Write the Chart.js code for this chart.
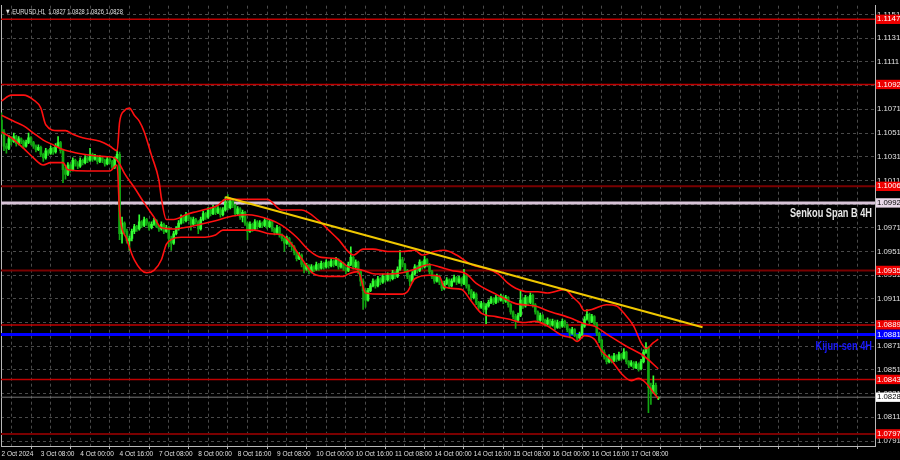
<!DOCTYPE html>
<html>
<head>
<meta charset="utf-8">
<script src="https://cdn.jsdelivr.net/npm/chart.js@4.4.1/dist/chart.umd.min.js"></script>
<style>
  html, body { margin: 0; padding: 0; background: #000; }
  canvas { display: block; background: #000; }
</style>
</head>
<body>
<canvas id="chart" width="900" height="460"></canvas>
<script>
// EURUSD H1 candles, bar 0 = first bar on screen
var opens = [
1.1062,1.1052,1.1040,1.1038,1.1046,1.1044,1.1048,1.1042,1.1046,1.1044,
1.1040,1.1043,1.1047,1.1043,1.1040,1.1037,1.1039,1.1033,1.1030,1.1036,
1.1034,1.1038,1.1035,1.1040,1.1043,1.1036,1.1020,1.1016,1.1024,1.1020,
1.1028,1.1025,1.1023,1.1028,1.1026,1.1030,1.1028,1.1033,1.1029,1.1031,
1.1027,1.1030,1.1028,1.1025,1.1029,1.1027,1.1022,1.1030,1.1033,1.0966,
1.0975,1.0968,1.0960,1.0962,1.0968,1.0972,1.0970,1.0976,1.0973,1.0978,
1.0975,1.0971,1.0974,1.0977,1.0972,1.0970,1.0974,1.0968,1.0971,1.0962,
1.0958,1.0966,1.0970,1.0975,1.0980,1.0977,1.0982,1.0979,1.0974,1.0978,
1.0976,1.0970,1.0978,1.0983,1.0980,1.0986,1.0983,1.0988,1.0984,1.0987,
1.0982,1.0986,1.0992,1.0988,1.0994,1.0990,1.0983,1.0987,1.0980,1.0984,
1.0975,1.0968,1.0974,1.0970,1.0976,1.0972,1.0975,1.0973,1.0977,1.0972,
1.0976,1.0970,1.0967,1.0971,1.0965,1.0962,1.0958,1.0962,1.0957,1.0955,
1.0950,1.0945,1.0948,1.0940,1.0936,1.0939,1.0934,1.0938,1.0936,1.0940,
1.0937,1.0941,1.0938,1.0942,1.0939,1.0943,1.0940,1.0944,1.0938,1.0941,
1.0937,1.0935,1.0940,1.0946,1.0938,1.0942,1.0934,1.0926,1.0918,1.0910,
1.0918,1.0922,1.0926,1.0922,1.0928,1.0925,1.0930,1.0927,1.0931,1.0928,
1.0933,1.0930,1.0936,1.0944,1.0940,1.0935,1.0930,1.0926,1.0932,1.0938,
1.0935,1.0942,1.0938,1.0944,1.0940,1.0934,1.0930,1.0926,1.0930,1.0925,
1.0920,1.0924,1.0927,1.0922,1.0926,1.0929,1.0925,1.0928,1.0924,1.0930,
1.0922,1.0918,1.0912,1.0915,1.0908,1.0904,1.0907,1.0902,1.0905,1.0908,
1.0911,1.0908,1.0912,1.0910,1.0913,1.0909,1.0912,1.0906,1.0900,1.0896,
1.0893,1.0897,1.0910,1.0905,1.0912,1.0908,1.0914,1.0906,1.0900,1.0893,
1.0897,1.0893,1.0890,1.0893,1.0889,1.0892,1.0887,1.0891,1.0888,1.0892,
1.0889,1.0885,1.0882,1.0885,1.0880,1.0878,1.0881,1.0888,1.0894,1.0898,
1.0892,1.0896,1.0890,1.0882,1.0876,1.0866,1.0862,1.0858,1.0862,1.0859,
1.0863,1.0860,1.0864,1.0861,1.0866,1.0858,1.0855,1.0857,1.0853,1.0856,
1.0852,1.0858,1.0866,1.0870,1.0836,1.0832,1.0838,1.0827]
var highs = [
1.1068,1.1054,1.1042,1.1049,1.1048,1.1051,1.1049,1.1048,1.1047,1.1045,
1.1045,1.1051,1.1048,1.1044,1.1041,1.1041,1.1040,1.1034,1.1038,1.1037,
1.1040,1.1039,1.1042,1.1048,1.1044,1.1037,1.1022,1.1026,1.1025,1.1030,
1.1029,1.1027,1.1030,1.1029,1.1032,1.1031,1.1038,1.1034,1.1033,1.1032,
1.1032,1.1031,1.1029,1.1031,1.1030,1.1028,1.1031,1.1036,1.1035,1.0980,
1.0976,1.0970,1.0964,1.0970,1.0974,1.0973,1.0982,1.0977,1.0980,1.0979,
1.0976,1.0976,1.0979,1.0978,1.0973,1.0976,1.0975,1.0973,1.0972,1.0964,
1.0968,1.0972,1.0977,1.0982,1.0981,1.0984,1.0983,1.0980,1.0980,1.0979,
1.0977,1.0980,1.0985,1.0984,1.0988,1.0987,1.0990,1.0989,1.0989,1.0988,
1.0988,1.0997,1.0999,1.0996,1.0995,1.0991,1.0989,1.0988,1.0986,1.0985,
1.0976,1.0976,1.0975,1.0978,1.0977,1.0977,1.0976,1.0979,1.0978,1.0978,
1.0977,1.0971,1.0973,1.0972,1.0966,1.0963,1.0964,1.0963,1.0959,1.0956,
1.0951,1.0950,1.0949,1.0941,1.0941,1.0940,1.0940,1.0939,1.0942,1.0941,
1.0943,1.0942,1.0944,1.0943,1.0945,1.0944,1.0946,1.0945,1.0943,1.0942,
1.0938,1.0942,1.0955,1.0947,1.0944,1.0943,1.0935,1.0928,1.0920,1.0920,
1.0924,1.0928,1.0927,1.0930,1.0929,1.0932,1.0931,1.0933,1.0932,1.0935,
1.0934,1.0938,1.0952,1.0946,1.0941,1.0936,1.0931,1.0934,1.0940,1.0939,
1.0944,1.0943,1.0947,1.0945,1.0941,1.0935,1.0931,1.0932,1.0931,1.0926,
1.0926,1.0929,1.0928,1.0928,1.0931,1.0930,1.0930,1.0929,1.0936,1.0931,
1.0923,1.0919,1.0917,1.0916,1.0909,1.0909,1.0908,1.0907,1.0910,1.0913,
1.0912,1.0914,1.0913,1.0915,1.0914,1.0914,1.0913,1.0907,1.0901,1.0898,
1.0899,1.0918,1.0912,1.0914,1.0913,1.0916,1.0915,1.0907,1.0901,1.0899,
1.0898,1.0894,1.0895,1.0894,1.0894,1.0893,1.0893,1.0892,1.0894,1.0893,
1.0890,1.0886,1.0887,1.0886,1.0881,1.0883,1.0890,1.0896,1.0902,1.0899,
1.0898,1.0897,1.0891,1.0883,1.0877,1.0868,1.0863,1.0864,1.0863,1.0865,
1.0864,1.0866,1.0865,1.0869,1.0867,1.0859,1.0859,1.0858,1.0858,1.0857,
1.0860,1.0868,1.0874,1.0871,1.0840,1.0846,1.0840,1.0828]
var lows = [
1.1050,1.1036,1.1034,1.1037,1.1041,1.1043,1.1040,1.1041,1.1042,1.1038,
1.1039,1.1042,1.1041,1.1038,1.1035,1.1036,1.1031,1.1027,1.1029,1.1032,
1.1033,1.1033,1.1034,1.1039,1.1034,1.1009,1.1012,1.1015,1.1018,1.1019,
1.1023,1.1021,1.1022,1.1024,1.1025,1.1026,1.1027,1.1027,1.1028,1.1025,
1.1026,1.1026,1.1023,1.1024,1.1025,1.1021,1.1021,1.1029,1.0961,1.0958,
1.0966,1.0958,1.0952,1.0960,1.0966,1.0968,1.0969,1.0971,1.0972,1.0973,
1.0969,1.0970,1.0973,1.0971,1.0968,1.0969,1.0966,1.0967,1.0955,1.0952,
1.0957,1.0965,1.0969,1.0974,1.0975,1.0976,1.0977,1.0969,1.0973,1.0974,
1.0966,1.0969,1.0977,1.0978,1.0979,1.0981,1.0982,1.0982,1.0983,1.0980,
1.0981,1.0985,1.0986,1.0987,1.0988,1.0981,1.0982,1.0978,1.0976,1.0973,
1.0961,1.0967,1.0968,1.0969,1.0970,1.0971,1.0971,1.0972,1.0970,1.0971,
1.0968,1.0965,1.0966,1.0963,1.0960,1.0951,1.0957,1.0955,1.0952,1.0948,
1.0943,1.0944,1.0938,1.0933,1.0935,1.0932,1.0933,1.0934,1.0935,1.0935,
1.0936,1.0936,1.0937,1.0937,1.0938,1.0938,1.0939,1.0936,1.0937,1.0935,
1.0932,1.0934,1.0939,1.0936,1.0937,1.0932,1.0922,1.0902,1.0904,1.0909,
1.0917,1.0921,1.0920,1.0921,1.0923,1.0924,1.0925,1.0926,1.0926,1.0927,
1.0928,1.0929,1.0935,1.0938,1.0933,1.0928,1.0922,1.0925,1.0931,1.0933,
1.0934,1.0936,1.0937,1.0938,1.0932,1.0928,1.0924,1.0925,1.0923,1.0918,
1.0919,1.0923,1.0920,1.0921,1.0925,1.0923,1.0924,1.0922,1.0923,1.0920,
1.0915,1.0910,1.0911,1.0906,1.0902,1.0903,1.0900,1.0890,1.0904,1.0907,
1.0906,1.0907,1.0908,1.0909,1.0907,1.0908,1.0904,1.0898,1.0894,1.0886,
1.0892,1.0896,1.0903,1.0904,1.0906,1.0907,1.0904,1.0898,1.0891,1.0892,
1.0891,1.0888,1.0889,1.0887,1.0888,1.0885,1.0886,1.0886,1.0887,1.0887,
1.0883,1.0878,1.0881,1.0879,1.0876,1.0877,1.0880,1.0887,1.0893,1.0890,
1.0891,1.0888,1.0880,1.0874,1.0864,1.0860,1.0856,1.0857,1.0857,1.0858,
1.0858,1.0859,1.0859,1.0860,1.0856,1.0853,1.0854,1.0852,1.0852,1.0850,
1.0851,1.0857,1.0865,1.0815,1.0822,1.0831,1.0829,1.0826]
var closes = [
1.1052,1.1040,1.1038,1.1046,1.1044,1.1048,1.1042,1.1046,1.1044,1.1040,
1.1043,1.1047,1.1043,1.1040,1.1037,1.1039,1.1033,1.1030,1.1036,1.1034,
1.1038,1.1035,1.1040,1.1043,1.1036,1.1020,1.1016,1.1024,1.1020,1.1028,
1.1025,1.1023,1.1028,1.1026,1.1030,1.1028,1.1033,1.1029,1.1031,1.1027,
1.1030,1.1028,1.1025,1.1029,1.1027,1.1022,1.1030,1.1033,1.0966,1.0975,
1.0968,1.0960,1.0962,1.0968,1.0972,1.0970,1.0976,1.0973,1.0978,1.0975,
1.0971,1.0974,1.0977,1.0972,1.0970,1.0974,1.0968,1.0971,1.0962,1.0958,
1.0966,1.0970,1.0975,1.0980,1.0977,1.0982,1.0979,1.0974,1.0978,1.0976,
1.0970,1.0978,1.0983,1.0980,1.0986,1.0983,1.0988,1.0984,1.0987,1.0982,
1.0986,1.0992,1.0988,1.0994,1.0990,1.0983,1.0987,1.0980,1.0984,1.0975,
1.0968,1.0974,1.0970,1.0976,1.0972,1.0975,1.0973,1.0977,1.0972,1.0976,
1.0970,1.0967,1.0971,1.0965,1.0962,1.0958,1.0962,1.0957,1.0955,1.0950,
1.0945,1.0948,1.0940,1.0936,1.0939,1.0934,1.0938,1.0936,1.0940,1.0937,
1.0941,1.0938,1.0942,1.0939,1.0943,1.0940,1.0944,1.0938,1.0941,1.0937,
1.0935,1.0940,1.0946,1.0938,1.0942,1.0934,1.0926,1.0918,1.0910,1.0918,
1.0922,1.0926,1.0922,1.0928,1.0925,1.0930,1.0927,1.0931,1.0928,1.0933,
1.0930,1.0936,1.0944,1.0940,1.0935,1.0930,1.0926,1.0932,1.0938,1.0935,
1.0942,1.0938,1.0944,1.0940,1.0934,1.0930,1.0926,1.0930,1.0925,1.0920,
1.0924,1.0927,1.0922,1.0926,1.0929,1.0925,1.0928,1.0924,1.0930,1.0922,
1.0918,1.0912,1.0915,1.0908,1.0904,1.0907,1.0902,1.0905,1.0908,1.0911,
1.0908,1.0912,1.0910,1.0913,1.0909,1.0912,1.0906,1.0900,1.0896,1.0893,
1.0897,1.0910,1.0905,1.0912,1.0908,1.0914,1.0906,1.0900,1.0893,1.0897,
1.0893,1.0890,1.0893,1.0889,1.0892,1.0887,1.0891,1.0888,1.0892,1.0889,
1.0885,1.0882,1.0885,1.0880,1.0878,1.0881,1.0888,1.0894,1.0898,1.0892,
1.0896,1.0890,1.0882,1.0876,1.0866,1.0862,1.0858,1.0862,1.0859,1.0863,
1.0860,1.0864,1.0861,1.0866,1.0858,1.0855,1.0857,1.0853,1.0856,1.0852,
1.0858,1.0866,1.0870,1.0836,1.0832,1.0838,1.0830,1.0828]

// bollinger envelope, [bar, price]
var upperBand = [[0,1.1078],[4,1.1083],[9,1.1083],[13,1.1079],[16,1.1072],[18,1.1058],[23,1.1053],[26,1.1053],
  [29,1.1050],[33,1.1047],[40,1.1044],[44,1.1040],[47,1.1036],[48,1.1060],[50,1.1070],[52,1.1072],[54,1.1066],
  [56,1.1061],[58,1.1052],[61,1.1032],[64,1.1011],[65,1.0996],[67,1.0978],[70,1.0978],[75,1.0982],[78,1.0984],
  [82,1.0986],[88,1.0990],[91,1.0995],[100,1.0995],[108,1.0995],[114,1.0986],[122,1.0986],[129,1.0977],
  [133,1.0969],[137,1.0961],[143,1.0948],[147,1.0953],[151,1.0953],[157,1.0951],[163,1.0951],[168,1.0952],
  [171,1.0948],[176,1.0951],[180,1.0952],[185,1.0948],[191,1.0940],[198,1.0936],[202,1.0932],[206,1.0924],
  [209,1.0920],[214,1.0917],[218,1.0917],[222,1.0916],[229,1.0919],[232,1.0913],[235,1.0907],[237,1.0901],
  [240,1.0902],[246,1.0906],[250,1.0905],[253,1.0899],[257,1.0888],[260,1.0874],[262,1.0869],[265,1.0874],[267,1.0877]]
var middleBand = [[0,1.1066],[5,1.1061],[9,1.1057],[13,1.1051],[17,1.1045],[21,1.1041],[25,1.1037],[31,1.1034],
  [37,1.1032],[43,1.1031],[46,1.1030],[48,1.1025],[50,1.1017],[54,1.1005],[58,1.0992],[62,1.0980],[65,1.0971],
  [70,1.0970],[74,1.0971],[81,1.0974],[87,1.0977],[94,1.0981],[100,1.0982],[109,1.0978],[114,1.0973],
  [120,1.0963],[125,1.0952],[130,1.0946],[136,1.0945],[141,1.0938],[147,1.0935],[152,1.0932],[157,1.0932],
  [163,1.0933],[168,1.0936],[174,1.0940],[178,1.0938],[183,1.0935],[189,1.0932],[193,1.0924],[201,1.0915],
  [209,1.0907],[217,1.0905],[222,1.0901],[231,1.0895],[237,1.0890],[241,1.0888],[247,1.0880],[254,1.0871],
  [261,1.0863],[267,1.0852]]
var lowerBand = [[0,1.1052],[4,1.1047],[9,1.1038],[13,1.1030],[17,1.1024],[20,1.1026],[25,1.1026],[27,1.1020],
  [35,1.1019],[44,1.1019],[47,1.1024],[48,1.0985],[51,1.0961],[54,1.0944],[59,1.0933],[62,1.0935],[65,1.0944],
  [67,1.0957],[69,1.0961],[73,1.0963],[81,1.0963],[87,1.0965],[90,1.0969],[95,1.0969],[103,1.0969],[109,1.0966],
  [114,1.0965],[118,1.0957],[122,1.0945],[127,1.0932],[132,1.0930],[139,1.0930],[141,1.0932],[145,1.0934],
  [148,1.0916],[155,1.0915],[163,1.0915],[165,1.0917],[168,1.0928],[174,1.0931],[178,1.0930],[180,1.0921],
  [187,1.0919],[191,1.0909],[195,1.0899],[201,1.0896],[206,1.0894],[212,1.0891],[217,1.0892],[222,1.0888],
  [228,1.0880],[232,1.0878],[234,1.0875],[237,1.0880],[241,1.0877],[244,1.0867],[248,1.0859],[252,1.0848],
  [256,1.0842],[259,1.0844],[262,1.0840],[265,1.0832],[267,1.0827]]

var trendLine = [[91,1.0997],[285,1.0887]]

var levelPrices = [1.1147,1.1092,1.1006,1.0992,1.0935,1.0889,1.0881,1.0843,1.0828,1.0797]
var gridPrices = [1.0791,1.0811,1.0831,1.0851,1.0871,1.0891,1.0911,1.0931,1.0951,1.0971,
  1.0991,1.1011,1.1031,1.1051,1.1071,1.1091,1.1111,1.1131,1.1151]
var xLabels = ["2 Oct 2024","3 Oct 08:00","4 Oct 00:00","4 Oct 16:00","7 Oct 08:00","8 Oct 00:00",
  "8 Oct 16:00","9 Oct 08:00","10 Oct 00:00","10 Oct 16:00","11 Oct 08:00","14 Oct 00:00",
  "14 Oct 16:00","15 Oct 08:00","16 Oct 00:00","16 Oct 16:00","17 Oct 08:00"]
var noteTexts = ["Senkou Span B 4H","Kijun-sen 4H"]
var notePrices = [1.0992,1.0881]
var titleText = "\u25BC EURUSD,H1  1.0827 1.0828 1.0826 1.0828"

// looks
var UP = "#33ff33", DOWN = "#12a812"
var GRID = "#4a4a4a", AXIS = "#b8b8b8", LABEL = "#e0e0e0"
var levelLook = {
  red:   {line:"#c00000", width:1.5, box:"#ee0000", text:"#ffffff"},
  dark:  {line:"#7a0000", width:2,   box:"#ee0000", text:"#ffffff"},
  span:  {line:"#d8c4d8", width:3,   box:"#e8d8e8", text:"#000000"},
  kijun: {line:"#0000ff", width:3,   box:"#0000ff", text:"#ffffff"},
  bid:   {line:"#777777", width:1,   box:"#ffffff", text:"#000000"}
}
var levelKind = ["red","red","dark","span","dark","red","kijun","red","bid","dark"]
var noteLook = [{color:"#e8e8e8", dy:11}, {color:"#1a1aff", dy:12}]

function levelIndex(v){ return levelPrices.indexOf(v) }

var wickData = [], bodyData = [], candleColors = []
for(let i=0;i<closes.length;i++){
    wickData.push({x:i, y:[lows[i], highs[i]]})
    bodyData.push({x:i, y:[opens[i], closes[i]]})
    candleColors.push(closes[i]>=opens[i] ? UP : DOWN)
}

function pts(arr){ return arr.map(p => ({x:p[0], y:p[1]})) }

var datasets = []
levelPrices.forEach((p,i) => {
    let look = levelLook[levelKind[i]]
    datasets.push({type:"line", data:[{x:-5,y:p},{x:400,y:p}], borderColor:look.line,
        borderWidth:look.width, pointRadius:0, order:5})
})
datasets.push({type:"bar", data:wickData, backgroundColor:candleColors, barThickness:1,
    grouped:false, order:4})
datasets.push({type:"bar", data:bodyData, backgroundColor:candleColors, barThickness:2,
    grouped:false, minBarLength:1, order:3})
;[upperBand, middleBand, lowerBand].forEach(b => {
    datasets.push({type:"line", data:pts(b), borderColor:"#ff1010", borderWidth:1.6, pointRadius:0,
        cubicInterpolationMode:"monotone", order:2})
})
datasets.push({type:"line", data:pts(trendLine), borderColor:"#f0c800", borderWidth:2, pointRadius:0, order:1})

// narrow text like the terminal font: squeeze horizontally
function squeezedText(ctx, text, x, y, sx){
    ctx.save()
    ctx.translate(x, y)
    ctx.scale(sx, 1)
    ctx.fillText(text, 0, 0)
    ctx.restore()
}

const textPlugin = {
    id: "mt4text",
    afterDatasetsDraw(chart){
        const {ctx, chartArea, scales} = chart
        ctx.save()
        ctx.font = '7.5px "Liberation Sans"'
        ctx.fillStyle = "#e0e0e0"
        ctx.textBaseline = "middle"
        ctx.textAlign = "left"
        squeezedText(ctx, titleText, chartArea.left + 4, chartArea.top + 6, 0.76)
        ctx.font = 'bold 13px "Liberation Sans"'
        ctx.textAlign = "right"
        noteTexts.forEach((t,i) => {
            ctx.fillStyle = noteLook[i].color
            squeezedText(ctx, t, chartArea.right - 3, scales.y.getPixelForValue(notePrices[i]) + noteLook[i].dy, 0.71)
        })
        ctx.restore()
    }
}

const ctx = document.getElementById("chart")
new Chart(ctx, {
    type: "line",
    data: {datasets: datasets},
    options: {
        responsive: false,
        animation: false,
        events: [],
        layout: {padding: {left:0, top:1, right:0, bottom:0}},
        plugins: {legend:{display:false}, tooltip:{enabled:false}},
        scales: {
            x: {
                type: "linear", min: -0.2, max: 355.1, offset: false,
                afterBuildTicks: s => { s.ticks = []; for(let v=0; v<=352; v+=8) s.ticks.push({value:v}) },
                afterFit: s => { s.height = 14 },
                grid: {color: GRID, tickLength: 3,
                    tickColor: c => (c.tick && c.tick.value % 16 === 0) ? AXIS : "rgba(0,0,0,0)"},
                border: {display:true, color: AXIS, dash:[3,3]},
                ticks: {autoSkip:false, maxRotation:0, align:"start", padding:1, color: LABEL,
                    font: {family:"Liberation Sans", size:6.5},
                    callback: v => v % 16 === 0 ? (xLabels[v/16] || "") : ""}
            },
            y: {
                type: "linear", position: "right", min: 1.07868, max: 1.11585,
                afterBuildTicks: s => {
                    s.ticks = gridPrices.map(v => ({value:v})).concat(levelPrices.map(v => ({value:v})))
                },
                afterFit: s => { s.width = 25 },
                grid: {
                    color: c => (c.tick && levelIndex(c.tick.value) >= 0) ? "rgba(0,0,0,0)" : GRID,
                    tickLength: 1,
                    tickColor: c => (c.tick && levelIndex(c.tick.value) >= 0) ? "rgba(0,0,0,0)" : AXIS
                },
                border: {display:true, color: AXIS, dash:[3,3]},
                ticks: {
                    autoSkip:false, padding:1,
                    font: {family:"Liberation Sans", size:7.8},
                    color: c => {
                        let i = c.tick ? levelIndex(c.tick.value) : -1
                        return i >= 0 ? levelLook[levelKind[i]].text : LABEL
                    },
                    showLabelBackdrop: c => !!c.tick && levelIndex(c.tick.value) >= 0,
                    backdropColor: c => {
                        let i = c.tick ? levelIndex(c.tick.value) : -1
                        return i >= 0 ? levelLook[levelKind[i]].box : "rgba(0,0,0,0)"
                    },
                    backdropPadding: {left:1, right:4, top:0, bottom:0},
                    callback: v => Number(v).toFixed(4)
                }
            },
            yl: {
                type: "linear", position: "left", min: 1.07868, max: 1.11585,
                afterFit: s => { s.width = 1 },
                grid: {display:false, drawTicks:false},
                border: {display:true, color: AXIS},
                ticks: {display:false}
            }
        }
    },
    plugins: [textPlugin]
});
</script>
</body>
</html>
